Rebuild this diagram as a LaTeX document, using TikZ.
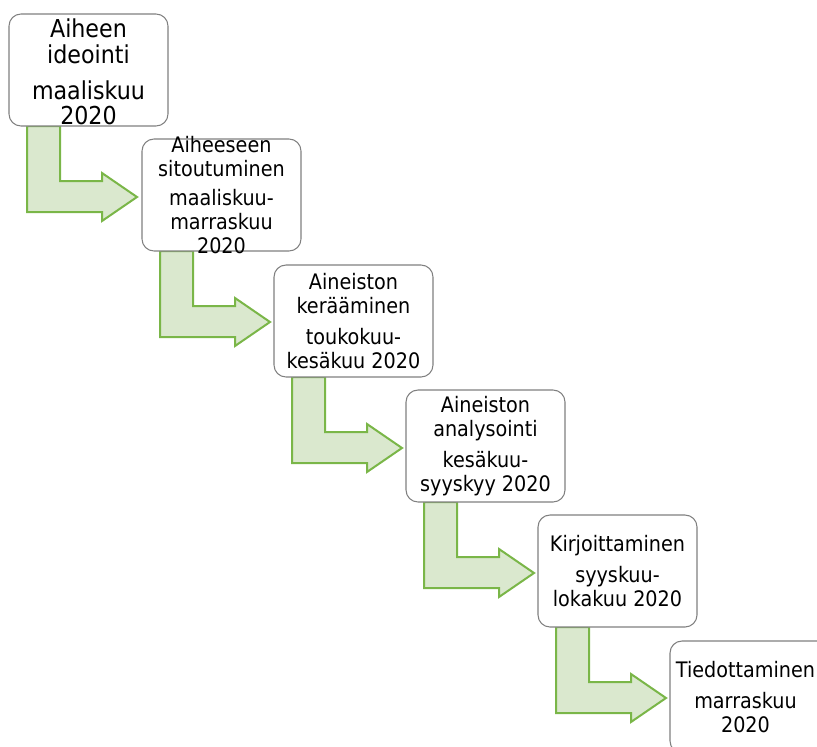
\documentclass[tikz,border=0pt]{standalone}
\usepackage{fontspec}
\setmainfont{DejaVu Sans Condensed}
\usetikzlibrary{backgrounds}

\definecolor{arrowfill}{RGB}{218,232,206}
\definecolor{arrowline}{RGB}{122,182,72}
\definecolor{boxline}{RGB}{128,128,128}

\tikzset{
  stepbox/.style={draw=boxline, line width=0.8pt, fill=white, rounded corners=9pt,
    minimum width=119.25pt, minimum height=84pt, inner sep=0pt, outer sep=0pt},
  steptext/.style={align=center, inner sep=0pt, font=\fontsize{16pt}{18pt}\selectfont},
  steparrow/.style={draw=arrowline, line width=1.5pt, fill=arrowfill, line join=miter}
}

\begin{document}
\begin{tikzpicture}[x=0.75pt, y=-0.75pt]
    \useasboundingbox (0,0) rectangle (817,746);
    \clip (0,0) rectangle (817,746);

    % Steps
    \node[stepbox] (s1) at (88.5,70) {};
    \node[steptext, font=\fontsize{18.5pt}{19pt}\selectfont] (s1t) at ([yshift=-1.5pt]s1) {Aiheen\\ideointi\\[8pt]maaliskuu\\2020};
    \node[stepbox] (s2) at (221.5,195) {};
    \node[steptext] (s2t) at (s2) {Aiheeseen\\sitoutuminen\\[4pt]maaliskuu-\\marraskuu\\2020};
    \node[stepbox] (s3) at (353.5,321) {};
    \node[steptext] (s3t) at (s3) {Aineiston\\kerääminen\\[5pt]toukokuu-\\kesäkuu 2020};
    \node[stepbox] (s4) at (485.5,446) {};
    \node[steptext] (s4t) at (s4) {Aineiston\\analysointi\\[5pt]kesäkuu-\\syyskyy 2020};
    \node[stepbox] (s5) at (617.5,571) {};
    \node[steptext] (s5t) at (s5) {Kirjoittaminen\\[5pt]syyskuu-\\lokakuu 2020};
    \node[stepbox] (s6) at (749.5,697) {};
    \node[steptext] (s6t) at ([xshift=-3pt]s6) {Tiedottaminen\\[5pt]marraskuu\\2020};

    % Bent arrows under the boxes
    \begin{pgfonlayer}{background}
    \foreach \i in {1,...,5} {
        \draw[steparrow, shift={(s\i.south west)}]
            (18,0) -- (18,86) -- (93,86) -- (93,95) -- (128,71)
            -- (93,47) -- (93,55) -- (51,55) -- (51,0) -- cycle;
    }
    \end{pgfonlayer}
\end{tikzpicture}
\end{document}
